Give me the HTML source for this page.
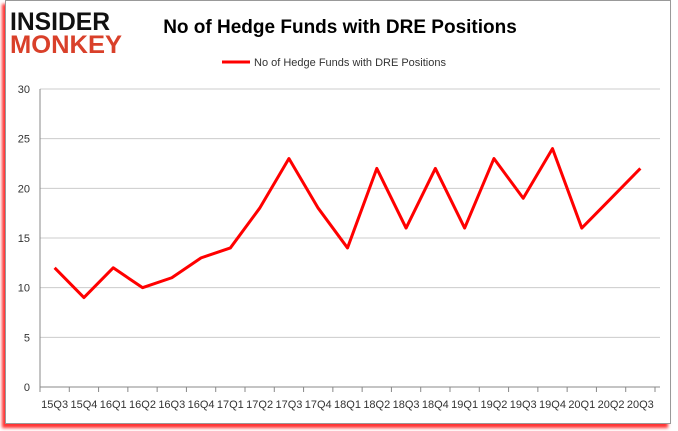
<!DOCTYPE html>
<html><head><meta charset="utf-8"><style>
body{margin:0;background:#fff;width:678px;height:431px;overflow:hidden;font-family:"Liberation Sans",sans-serif}
#frame{position:absolute;left:5px;top:0;width:664px;height:422px;border:1px solid #999;box-shadow:-3px 4px 3px #f33;background:#fff}
</style></head><body>
<div id="frame"></div>
<svg width="678" height="431" style="position:absolute;left:0;top:0" id="chart">
<text x="10" y="30" font-size="25" font-weight="bold" fill="#111" font-family="Liberation Sans" textLength="100" lengthAdjust="spacingAndGlyphs">INSIDER</text>
<text x="10" y="53" font-size="25" font-weight="bold" fill="#d9402a" font-family="Liberation Sans" textLength="112" lengthAdjust="spacingAndGlyphs">MONKEY</text>
<text x="340" y="33" font-size="19" font-weight="bold" text-anchor="middle" fill="#000">No of Hedge Funds with DRE Positions</text>
<line x1="222" y1="62" x2="250" y2="62" stroke="#f00" stroke-width="3"/>
<text x="254" y="66" font-size="11" fill="#333">No of Hedge Funds with DRE Positions</text>
<g id="g"></g>
</svg>
<script>
const categories=["15Q3","15Q4","16Q1","16Q2","16Q3","16Q4","17Q1","17Q2","17Q3","17Q4","18Q1","18Q2","18Q3","18Q4","19Q1","19Q2","19Q3","19Q4","20Q1","20Q2","20Q3"];
const values=[12,9,12,10,11,13,14,18,23,18,14,22,16,22,16,23,19,24,16,19,22];
const yTicks=[0,5,10,15,20,25,30];
const L=40,R=655,T=89,B=387,NS="http://www.w3.org/2000/svg";
const g=document.getElementById('g');
const step=(R-L)/categories.length;
const x=i=>L+step*(i+0.5);
const y=v=>B-(v/30)*(B-T);
function mk(t,a){const e=document.createElementNS(NS,t);for(const k in a)e.setAttribute(k,a[k]);g.appendChild(e);return e;}
yTicks.forEach(v=>{
 const l=mk('line',{x1:L,x2:660,y1:y(v),y2:y(v),stroke:v===0?'#888':'#ccc','stroke-width':1});
 
 
 const t=mk('text',{x:L-10,y:y(v)+4,'font-size':11,'text-anchor':'end',fill:'#333'});t.textContent=v;
 
 
});
const ax=mk('line',{x1:L,x2:L,y1:T,y2:B,stroke:'#888'});


for(let i=0;i<=categories.length;i++){const tk=mk('line',{x1:L+step*i,x2:L+step*i,y1:B,y2:B+5,stroke:'#888'});
 
 }
categories.forEach((c,i)=>{const t=mk('text',{x:x(i),y:408,'font-size':11,'text-anchor':'middle',fill:'#333'});t.textContent=c;
 
 });
const p=mk('polyline',{points:values.map((v,i)=>x(i)+','+y(v)).join(' '),fill:'none',stroke:'#f00','stroke-width':3,'stroke-linejoin':'round'});


</script>
</body></html>
